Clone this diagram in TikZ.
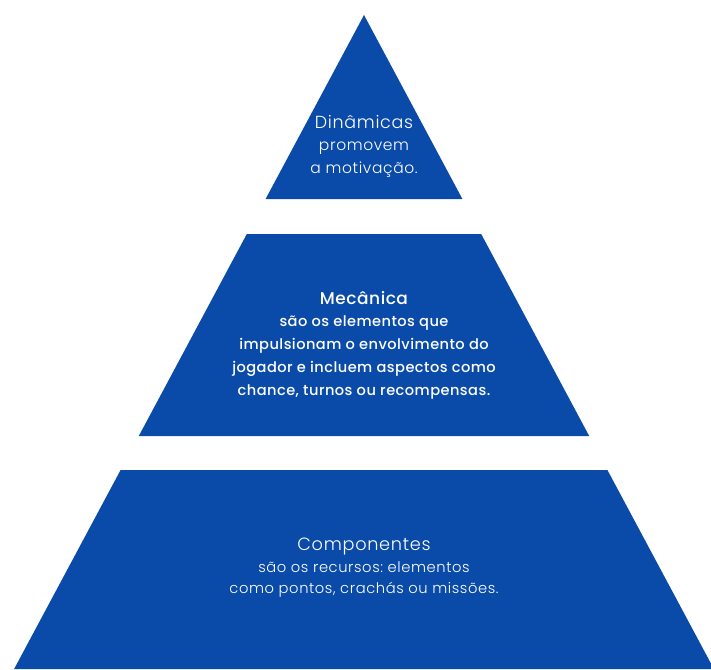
\documentclass[tikz,border=0pt]{standalone}
\usepackage{fontspec}
\setmainfont{Poppins}
\newfontfamily\poplight[LetterSpace=4]{Poppins Light}
\newfontfamily\popmed[LetterSpace=3]{Poppins Medium}
\definecolor{pyrblue}{HTML}{0A4BAA}
\begin{document}
\begin{tikzpicture}[x=1pt,y=-1pt,
  layer/.style={fill=pyrblue,draw=none},
  label/.style={text=white,align=center,inner sep=0pt}]
\useasboundingbox (0,0) rectangle (711,669);
% pyramid levels (apex at x=364, side slope 0.535)
\fill[layer] (364,15) -- (462.4,199) -- (265.6,199) -- cycle;
\fill[layer] (246.8,234) -- (481.2,234) -- (589.2,436) -- (138.8,436) -- cycle;
\fill[layer] (120.6,470) -- (607.4,470) -- (713.9,669) -- (14.1,669) -- cycle;
% texts
\node[label,font=\poplight\fontsize{15.5}{22.5}\selectfont] (din) at (364,146)
  {{\fontsize{17.5}{22.5}\selectfont Dinâmicas}\\promovem\\a motivação.};
\node[label,font=\popmed\fontsize{14.6}{22.8}\selectfont] (mec) at (364,345)
  {{\fontsize{17}{22.8}\selectfont Mecânica}\\são os elementos que\\impulsionam o envolvimento do\\jogador e incluem aspectos como\\chance, turnos ou recompensas.};
\node[label,font=\poplight\fontsize{14.7}{21.5}\selectfont] (comp) at (364,568)
  {{\fontsize{17.7}{21.5}\selectfont Componentes}\\são os recursos:~elementos\\como pontos, crachás ou missões.};
\end{tikzpicture}
\end{document}
